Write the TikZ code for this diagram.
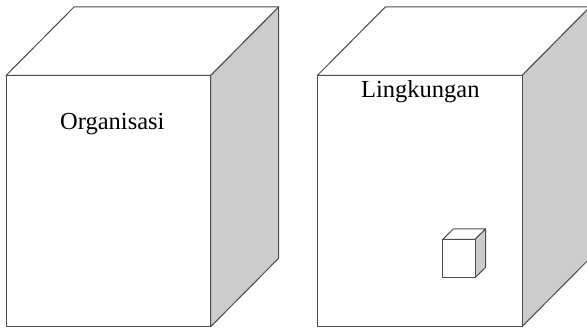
\documentclass[tikz,border=0pt]{standalone}
\usepackage{fontspec}
\setmainfont{Liberation Serif}
\begin{document}
\begin{tikzpicture}[x=1pt,y=-1pt,
  edge/.style={draw=black!70,line width=1pt,line join=round},
  sideface/.style={edge,fill=black!20},
  frontface/.style={edge,fill=white},
  lbl/.style={anchor=base west,inner sep=0pt,font=\fontsize{24.5}{28}\selectfont}]
\useasboundingbox (0,0) rectangle (587,328);
\begin{scope}
\clip (0,0) rectangle (587,328);
% left cube
\coordinate (a1) at (6,75.5);
\coordinate (a2) at (210.7,75.5);
\coordinate (a3) at (210.7,326.7);
\coordinate (a4) at (6,326.7);
\coordinate (a5) at (74,7);
\coordinate (a6) at (278.7,7);
\coordinate (a7) at (278.7,258.2);
\path[frontface] (a1) -- (a5) -- (a6) -- (a2) -- cycle;
\path[sideface] (a2) -- (a6) -- (a7) -- (a3) -- cycle;
\path[frontface] (a1) rectangle (a3);
% right cube
\coordinate (b1) at (317.3,75.5);
\coordinate (b2) at (522,75.5);
\coordinate (b3) at (522,326.7);
\coordinate (b4) at (317.3,326.7);
\coordinate (b5) at (385.3,7);
\coordinate (b6) at (590,7);
\coordinate (b7) at (590,258.2);
\path[frontface] (b1) -- (b5) -- (b6) -- (b2) -- cycle;
\path[sideface] (b2) -- (b6) -- (b7) -- (b3) -- cycle;
\path[frontface] (b1) rectangle (b3);
% small cube
\coordinate (c1) at (442.7,239.3);
\coordinate (c2) at (475,239.3);
\coordinate (c3) at (475,277.7);
\coordinate (c5) at (453.3,229);
\coordinate (c6) at (485.6,229);
\coordinate (c7) at (485.6,267.4);
\path[frontface] (c1) -- (c5) -- (c6) -- (c2) -- cycle;
\path[sideface] (c2) -- (c6) -- (c7) -- (c3) -- cycle;
\path[frontface] (c1) rectangle (c3);
\end{scope}
\node[lbl] (org) at (60,130) {Organisasi};
\node[lbl] (lin) at (361,98) {Lingkungan};
\end{tikzpicture}
\end{document}
